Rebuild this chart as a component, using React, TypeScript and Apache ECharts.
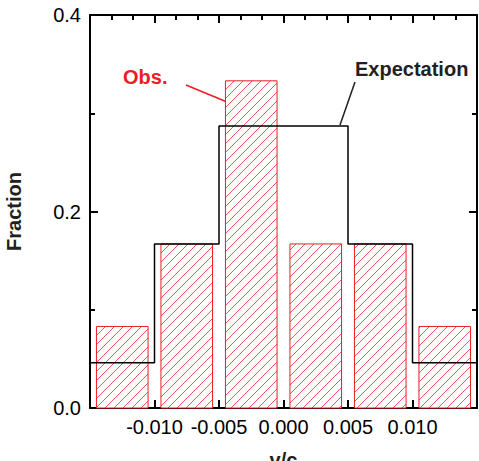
import React, { useEffect, useRef } from "react";
import * as echarts from "echarts";

const binCenters = [-0.0125, -0.0075, -0.0025, 0.0025, 0.0075, 0.0125];
const obsValues = [0.083, 0.167, 0.333, 0.167, 0.167, 0.083];
const binEdges = [-0.015, -0.01, -0.005, 0, 0.005, 0.01, 0.015];
const expectValues = [0.046, 0.167, 0.287, 0.287, 0.167, 0.046];
const barWidth = 0.004;

const RED = "#ed1c24";
const FONT = "'Liberation Sans', Arial, sans-serif";

export default function App() {
  const ref = useRef<HTMLDivElement>(null);
  useEffect(() => {
    if (!ref.current) return;
    const chart = echarts.init(ref.current, undefined, { renderer: "svg" });

    const stepData: number[][] = binEdges.map((e, i) => [
      e,
      expectValues[Math.min(i, expectValues.length - 1)],
    ]);

    const hatch = 9;
    const renderItem = (params: any, api: any) => {
      const c = api.value(0);
      const v = api.value(1);
      const tl = api.coord([c - barWidth / 2, v]);
      const br = api.coord([c + barWidth / 2, 0]);
      const x0 = tl[0], y0 = tl[1], x1 = br[0], y1 = br[1];
      const children: any[] = [
        {
          type: "rect",
          shape: { x: x0, y: y0, width: x1 - x0, height: y1 - y0 },
          style: { fill: "#fff", stroke: RED, lineWidth: 1 },
        },
      ];
      const kStart = Math.ceil((x0 + y0) / hatch) * hatch;
      for (let k = kStart; k <= x1 + y1; k += hatch) {
        const xa = Math.max(x0, k - y1);
        const xb = Math.min(x1, k - y0);
        if (xb - xa > 0.5) {
          children.push({
            type: "line",
            shape: { x1: xa, y1: k - xa, x2: xb, y2: k - xb },
            style: { stroke: RED, lineWidth: 0.9, opacity: 0.85 },
          });
        }
      }
      return { type: "group", children };
    };

    const xCommon = {
      type: "value" as const,
      min: -0.015,
      max: 0.015,
      interval: 0.005,
      axisLine: { show: true, onZero: false, lineStyle: { color: "#000", width: 2 } },
      axisTick: { show: true, inside: true, length: 8, lineStyle: { color: "#000", width: 2 } },
      minorTick: { show: true, splitNumber: 3, length: 5, lineStyle: { color: "#000", width: 2 } },
      splitLine: { show: false },
      minorSplitLine: { show: false },
    };
    const yCommon = {
      type: "value" as const,
      min: 0,
      max: 0.4,
      interval: 0.2,
      axisLine: { show: true, onZero: false, lineStyle: { color: "#000", width: 2 } },
      axisTick: { show: true, inside: true, length: 8, lineStyle: { color: "#000", width: 2 } },
      minorTick: { show: true, splitNumber: 2, length: 5, lineStyle: { color: "#000", width: 2 } },
      splitLine: { show: false },
      minorSplitLine: { show: false },
    };

    chart.setOption({
      animation: false,
      backgroundColor: "#fff",
      grid: { left: 90, top: 15, right: 2, bottom: 53, outerBoundsMode: "none", containLabel: false },
      xAxis: [
        {
          ...xCommon,
          position: "bottom",
          name: "v/c",
          nameLocation: "middle",
          nameGap: 42,
          nameTextStyle: { fontFamily: FONT, fontSize: 20, fontWeight: "bold", color: "#231f20" },
          axisLabel: {
            show: true,
            margin: 9,
            fontFamily: FONT,
            fontSize: 20,
            color: "#000",
            formatter: (v: number) => (Math.abs(v) > 0.0149 ? "" : v.toFixed(3)),
          },
        },
        { ...xCommon, position: "top", axisLabel: { show: false } },
      ],
      yAxis: [
        {
          ...yCommon,
          position: "left",
          name: "Fraction",
          nameLocation: "middle",
          nameGap: 66,
          nameTextStyle: { fontFamily: FONT, fontSize: 20, fontWeight: "bold", color: "#231f20" },
          axisLabel: {
            show: true,
            margin: 9,
            fontFamily: FONT,
            fontSize: 20,
            color: "#000",
            formatter: (v: number) => v.toFixed(1),
          },
        },
        { ...yCommon, position: "right", axisLabel: { show: false } },
      ],
      series: [
        {
          type: "custom",
          xAxisIndex: 0,
          yAxisIndex: 0,
          renderItem,
          data: binCenters.map((c, i) => [c, obsValues[i]]),
          z: 2,
        },
        {
          type: "line",
          xAxisIndex: 0,
          yAxisIndex: 0,
          step: "end",
          symbol: "none",
          data: stepData,
          lineStyle: { color: "#000", width: 1.5 },
          z: 5,
        },
      ],
      graphic: [
        {
          type: "text",
          left: 123,
          top: 67,
          style: { text: "Obs.", fill: RED, fontFamily: FONT, fontSize: 20, fontWeight: "bold" },
        },
        {
          type: "line",
          shape: { x1: 186, y1: 85, x2: 227, y2: 102 },
          style: { stroke: RED, lineWidth: 1.5 },
        },
        {
          type: "text",
          left: 355,
          top: 59,
          style: { text: "Expectation", fill: "#231f20", fontFamily: FONT, fontSize: 20, fontWeight: "bold" },
        },
        {
          type: "line",
          shape: { x1: 355, y1: 82, x2: 340, y2: 125 },
          style: { stroke: "#231f20", lineWidth: 1.5 },
        },
      ],
    });
    return () => chart.dispose();
  }, []);
  return (
    <div
      ref={ref}
      style={{ position: "fixed", left: 0, top: 0, width: 479, height: 461 }}
    />
  );
}
